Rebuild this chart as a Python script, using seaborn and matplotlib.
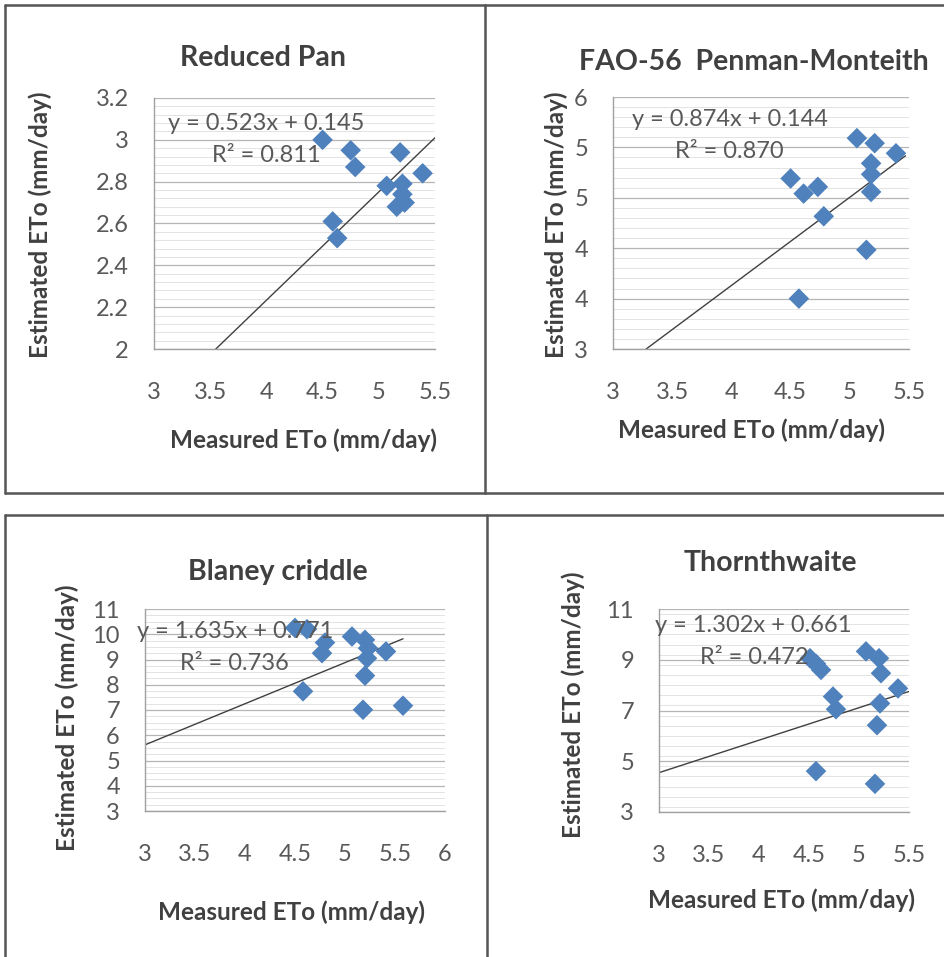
import matplotlib
matplotlib.use("Agg")
import matplotlib.pyplot as plt
import seaborn as sns
import pandas as pd
from matplotlib.lines import Line2D
from matplotlib.ticker import FixedLocator, MultipleLocator

# ---------------- data ----------------
pan_x = [4.50, 4.75, 4.79, 5.19, 5.39, 5.07, 5.21, 5.21, 5.16, 5.23, 4.59, 4.63]
pan_y = [3.00, 2.95, 2.87, 2.94, 2.84, 2.78, 2.79, 2.74, 2.68, 2.70, 2.61, 2.53]
pan_line_x = [3.55, 5.50]
pan_line_y = [2.00, 3.01]

fao_x = [5.06, 5.21, 5.39, 5.18, 5.18, 5.18, 5.14, 4.50, 4.61, 4.73, 4.78, 4.57]
fao_y = [5.51, 5.45, 5.33, 5.21, 5.08, 4.87, 4.18, 5.03, 4.85, 4.93, 4.58, 3.60]
fao_line_x = [3.28, 5.47]
fao_line_y = [3.00, 5.30]

bc_x = [4.50, 4.62, 4.80, 4.77, 5.07, 5.20, 5.23, 5.22, 5.41, 5.20, 4.58, 5.18, 5.58]
bc_y = [10.25, 10.20, 9.67, 9.25, 9.91, 9.78, 9.45, 9.05, 9.32, 8.36, 7.74, 7.01, 7.17]
bc_line_x = [3.00, 5.58]
bc_line_y = [5.62, 9.82]

th_x = [4.51, 4.57, 4.62, 4.74, 4.77, 5.07, 5.20, 5.22, 5.39, 5.21, 5.18, 4.57, 5.16]
th_y = [9.06, 8.84, 8.60, 7.55, 7.05, 9.33, 9.06, 8.47, 7.87, 7.28, 6.42, 4.61, 4.11]
th_line_x = [3.00, 5.50]
th_line_y = [4.55, 7.75]

titles = ["Reduced Pan", "FAO-56  Penman-Monteith", "Blaney criddle", "Thornthwaite"]
equations = ["y = 0.523x + 0.145", "y = 0.874x + 0.144", "y = 1.635x + 0.771", "y = 1.302x + 0.661"]
r2_texts = ["R² = 0.811", "R² = 0.870", "R² = 0.736", "R² = 0.472"]

xticks_a = [3, 3.5, 4, 4.5, 5, 5.5]
xticks_b = [3, 3.5, 4, 4.5, 5, 5.5, 6]
xticklabels_a = ["3", "3.5", "4", "4.5", "5", "5.5"]
xticklabels_b = ["3", "3.5", "4", "4.5", "5", "5.5", "6"]
yticks_pan = [2.0, 2.2, 2.4, 2.6, 2.8, 3.0, 3.2]
yticklabels_pan = ["2", "2.2", "2.4", "2.6", "2.8", "3", "3.2"]
yticks_fao = [3.0, 3.6, 4.2, 4.8, 5.4, 6.0]
yticklabels_fao = ["3", "4", "4", "5", "5", "6"]
yticks_bc = [3, 4, 5, 6, 7, 8, 9, 10, 11]
yticklabels_bc = ["3", "4", "5", "6", "7", "8", "9", "10", "11"]
yticks_th = [3, 5, 7, 9, 11]
yticklabels_th = ["3", "5", "7", "9", "11"]

xlabel = "Measured ETo (mm/day)"
ylabel = "Estimated ETo (mm/day)"

# ---------------- style ----------------
sns.set_theme(style="white")
plt.rcParams["font.family"] = ["Lato", "DejaVu Sans"]

W, H = 945, 957
fig = plt.figure(figsize=(W / 100, H / 100), dpi=100)
fig.patch.set_facecolor("white")


def fx(px):
    return px / W


def fy(py):
    return 1 - py / H


blue = "#4F81BD"
tick_col = "#595959"
lab_col = "#404040"

panels = [
    dict(rect=(154, 98, 435, 349), x=pan_x, y=pan_y, lx=pan_line_x, ly=pan_line_y,
         xlim=(3, 5.5), ylim=(2, 3.2), xt=xticks_a, xtl=xticklabels_a,
         yt=yticks_pan, ytl=yticklabels_pan, minor=0.04,
         title=(263, 58), xl=(304, 440), yl=(40, 225), eq=(168, 123), r2=(212, 155)),
    dict(rect=(613, 97, 909, 349), x=fao_x, y=fao_y, lx=fao_line_x, ly=fao_line_y,
         xlim=(3, 5.5), ylim=(3, 6), xt=xticks_a, xtl=xticklabels_a,
         yt=yticks_fao, ytl=yticklabels_fao, minor=0.12,
         title=(754, 62), xl=(752, 430), yl=(556, 225), eq=(632, 119), r2=(675, 151)),
    dict(rect=(145, 609, 445, 811), x=bc_x, y=bc_y, lx=bc_line_x, ly=bc_line_y,
         xlim=(3, 6), ylim=(3, 11), xt=xticks_b, xtl=xticklabels_b,
         yt=yticks_bc, ytl=yticklabels_bc, minor=0.25,
         title=(278, 572), xl=(291, 912), yl=(67, 718), eq=(137, 632), r2=(180, 664)),
    dict(rect=(659, 609, 909, 812), x=th_x, y=th_y, lx=th_line_x, ly=th_line_y,
         xlim=(3, 5.5), ylim=(3, 11), xt=xticks_a, xtl=xticklabels_a,
         yt=yticks_th, ytl=yticklabels_th, minor=0.4,
         title=(770, 563), xl=(782, 900), yl=(573, 705), eq=(655, 625), r2=(700, 658)),
]

for i, p in enumerate(panels):
    l, t, r, b = p["rect"]
    ax = fig.add_axes([fx(l), fy(b), fx(r) - fx(l), fy(t) - fy(b)])
    ax.set_xlim(*p["xlim"])
    ax.set_ylim(*p["ylim"])
    ax.yaxis.set_minor_locator(MultipleLocator(p["minor"]))
    ax.grid(which="minor", axis="y", color="#e3e3e3", linewidth=0.7)
    ax.grid(which="major", axis="y", color="#b5b5b5", linewidth=0.9)
    ax.set_axisbelow(True)

    line_df = pd.DataFrame({"x": p["lx"], "y": p["ly"]})
    sns.lineplot(data=line_df, x="x", y="y", ax=ax, color="#404040",
                 linewidth=1.0, sort=False, zorder=2)
    pts = pd.DataFrame({"x": p["x"], "y": p["y"]})
    sns.scatterplot(data=pts, x="x", y="y", ax=ax, marker="D", s=110,
                    color=blue, edgecolor="none", linewidth=0, zorder=3)

    ax.xaxis.set_major_locator(FixedLocator(p["xt"]))
    ax.set_xticklabels(p["xtl"])
    ax.yaxis.set_major_locator(FixedLocator(p["yt"]))
    ax.set_yticklabels(p["ytl"])
    ax.set_xlabel("")
    ax.set_ylabel("")
    for side in ["top", "right"]:
        ax.spines[side].set_visible(False)
    for side in ["left", "bottom"]:
        ax.spines[side].set_color("#a0a0a0")
        ax.spines[side].set_linewidth(1.0)
    ax.tick_params(axis="both", which="major", direction="out", length=5,
                   color="#a0a0a0", labelsize=17, labelcolor=tick_col)
    ax.tick_params(axis="y", which="minor", length=0)
    ax.tick_params(axis="x", pad=19)
    ax.tick_params(axis="y", pad=13)

    fig.text(fx(p["title"][0]), fy(p["title"][1]), titles[i], ha="center",
             va="center", fontsize=20.5, fontweight="bold", color=lab_col)
    fig.text(fx(p["xl"][0]), fy(p["xl"][1]), xlabel, ha="center", va="center",
             fontsize=17.5, fontweight="bold", color=lab_col)
    fig.text(fx(p["yl"][0]), fy(p["yl"][1]), ylabel, ha="center", va="center",
             rotation=90, fontsize=17.5, fontweight="bold", color=lab_col)
    fig.text(fx(p["eq"][0]), fy(p["eq"][1]), equations[i], ha="left",
             va="center", fontsize=17, color=tick_col)
    fig.text(fx(p["r2"][0]), fy(p["r2"][1]), r2_texts[i], ha="left",
             va="center", fontsize=17, color=tick_col)

# panel frames
frame_col = "#555555"
segments = [
    ((5, 5), (485, 5)), ((5, 5), (5, 493)), ((5, 493), (485, 493)),
    ((485, 5), (485, 493)), ((485, 5), (945, 5)), ((485, 493), (945, 493)),
    ((5, 515), (945, 515)), ((5, 515), (5, 957)), ((487, 515), (487, 957)),
]
for (x0, y0), (x1, y1) in segments:
    fig.add_artist(Line2D([fx(x0), fx(x1)], [fy(y0), fy(y1)],
                          transform=fig.transFigure, color=frame_col, linewidth=1.8))

fig.savefig("out.png", dpi=100, facecolor="white")
